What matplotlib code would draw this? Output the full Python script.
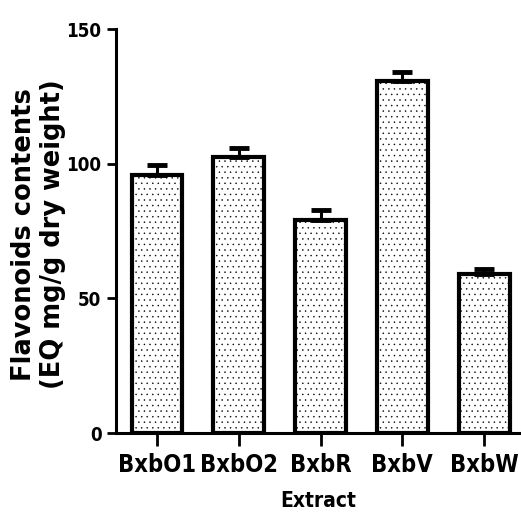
import matplotlib
matplotlib.use("Agg")
import matplotlib.pyplot as plt
from matplotlib import font_manager as fm

categories = ["BxbO1", "BxbO2", "BxbR", "BxbV", "BxbW"]
values = [96.0, 102.5, 79.0, 131.0, 59.0]
errors = [3.6, 3.5, 3.9, 3.1, 2.0]
yticks = [0, 50, 100, 150]

# look for a condensed / narrow bold face
cond = None
for f in fm.fontManager.ttflist:
    fn = f.fname.lower()
    if ("condensed" in fn or "narrow" in fn) and ("bold" in fn) and "oblique" not in fn and "italic" not in fn:
        cond = f.fname
        break

if cond:
    tickfp = fm.FontProperties(fname=cond, size=17)
    ytickfp = fm.FontProperties(fname=cond, size=13.5)
    xlabfp = fm.FontProperties(fname=cond, size=15)
else:
    tickfp = fm.FontProperties(family="DejaVu Sans", weight="bold", size=13.5)
    ytickfp = fm.FontProperties(family="DejaVu Sans", weight="bold", size=12)
    xlabfp = fm.FontProperties(family="DejaVu Sans", weight="bold", size=13)

plt.rcParams["hatch.linewidth"] = 0.3
plt.rcParams["hatch.color"] = "black"

fig = plt.figure(figsize=(5.21, 5.19), dpi=100)
ax = fig.add_axes([0.2226, 0.1657, 0.7774, 0.7775])

x = list(range(len(categories)))
ax.bar(x, values, width=0.62, color="white", edgecolor="black",
       linewidth=3.0, hatch="...", zorder=2)
ax.errorbar(x, values, yerr=[[0] * len(errors), errors], fmt="none",
            ecolor="black", elinewidth=2.2, capsize=7.5, capthick=3.5, zorder=3)

ax.set_xlim(-0.5, 4.45)
ax.set_ylim(0, 150)
ax.set_yticks(yticks)
ax.set_xticks(x)
ax.set_xticklabels(categories, fontproperties=tickfp)
ax.set_yticklabels([str(t) for t in yticks], fontproperties=ytickfp)

for s in ["top", "right"]:
    ax.spines[s].set_visible(False)
for s in ["left", "bottom"]:
    ax.spines[s].set_linewidth(2.2)

ax.tick_params(axis="y", length=6.5, width=2.0, pad=4)
ax.tick_params(axis="x", length=9.5, width=2.0, pad=5)

ax.set_xlabel("Extract", fontproperties=xlabfp, labelpad=10)

fig.text(0.046, 0.549, "Flavonoids contents", rotation=90, ha="center", va="center",
         fontfamily="DejaVu Sans", fontweight="bold", fontsize=18.5)
fig.text(0.102, 0.549, "(EQ mg/g dry weight)", rotation=90, ha="center", va="center",
         fontfamily="DejaVu Sans", fontweight="bold", fontsize=18.5)

fig.savefig("out.png", dpi=100)
